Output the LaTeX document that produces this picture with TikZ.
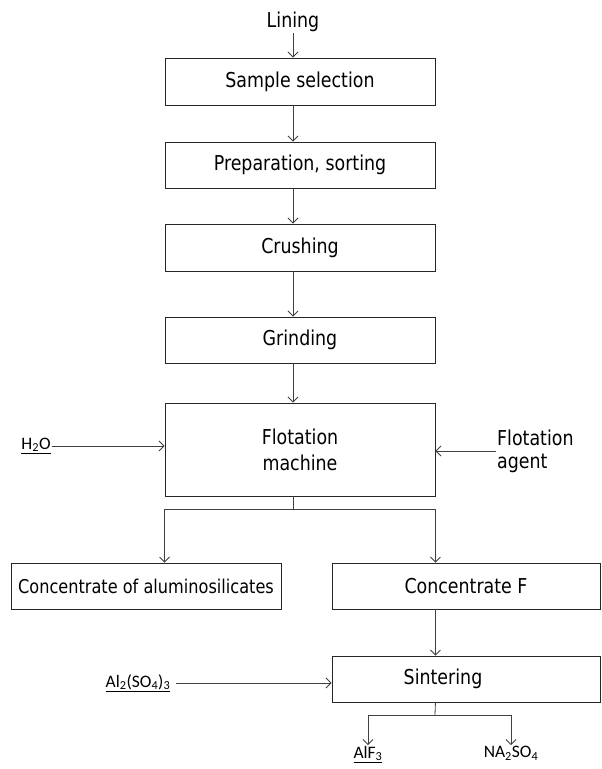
\documentclass[tikz,border=0pt]{standalone}
\usepackage{fontspec}
\setmainfont{DejaVu Sans}[FakeStretch=0.85]
\newfontfamily\calfont{Carlito}
\usetikzlibrary{arrows.meta}

\begin{document}
\begin{tikzpicture}[x=1pt,y=-1pt,
  box/.style={draw=black!85, line width=0.9pt, rectangle, minimum width=270pt, minimum height=46pt, inner sep=0pt, font=\fontsize{20.5}{24}\selectfont},
  conn/.style={draw=black!75, line width=0.8pt},
  arr/.style={conn, -{Straight Barb[length=5pt,width=10pt]}},
  chem/.style={font=\calfont\fontsize{17.5}{20}\selectfont, inner sep=1pt},
  lbl/.style={font=\fontsize{20.5}{23}\selectfont, inner sep=1pt}]

\useasboundingbox (0,0) rectangle (602,769);
\coordinate (spine) at (293,0);

\node[lbl] (lining) at (293,22) {Lining};
\node[box, minimum height=47pt] (sample) at (300,81.5) {Sample selection};
\node[box] (prep) at (300,165) {Preparation, sorting};
\node[box, minimum height=47pt] (crush) at (300,247.5) {Crushing};
\node[box] (grind) at (300,340) {Grinding};
\node[box, minimum height=93pt, align=center] (flot) at (300,449.5) {Flotation\\[2pt]machine};
\node[box, font=\fontsize{19}{23}\selectfont] (conAl) at (146,586) {Concentrate of aluminosilicates};
\node[box, minimum width=268pt] (conF) at (466,586) {Concentrate F};
\node[box, minimum width=268pt] (sint) at (466,679) {};
\node[lbl] (sinttxt) at (443,679) {Sintering};

\node[chem] (h2o) at (36,446) {\underline{H\textsubscript{2}O}};
\node[lbl, align=left, anchor=west] (agent) at (496,451) {Flotation\\agent};
\node[chem] (al) at (138,683) {\underline{Al\textsubscript{2}(SO\textsubscript{4})\textsubscript{3}}};
\node[chem, anchor=north] (alf) at (368,745) {\underline{AlF\textsubscript{3}}};
\node[chem, anchor=north] (na) at (511,745) {NA\textsubscript{2}SO\textsubscript{4}};

\draw[arr] (lining.south) -- (sample.north -| spine);
\draw[arr] (sample.south -| spine) -- (prep.north -| spine);
\draw[arr] (prep.south -| spine) -- (crush.north -| spine);
\draw[arr] (crush.south -| spine) -- (grind.north -| spine);
\draw[arr] (grind.south -| spine) -- (flot.north -| spine);

\draw[arr] (h2o.east) -- (flot.west |- h2o.east);
\draw[arr] (agent.west) -- (flot.east |- agent.west);

\coordinate (split) at (293,509);
\draw[conn] (flot.south -| spine) -- (split);
\draw[arr] (split) -| (conAl.north -| flot.west);
\draw[arr] (split) -| (conF.north -| flot.east);

\draw[arr] (conF.south -| flot.east) -- (sint.north -| flot.east);
\draw[arr] ([xshift=5pt]al.east) -- (sint.west |- al.east);

\coordinate (split2) at (435,715);
\draw[conn] (sint.south -| flot.east) -- (split2);
\draw[arr] (split2) -| (alf.north);
\draw[arr] (split2) -| (na.north);
\end{tikzpicture}
\end{document}
